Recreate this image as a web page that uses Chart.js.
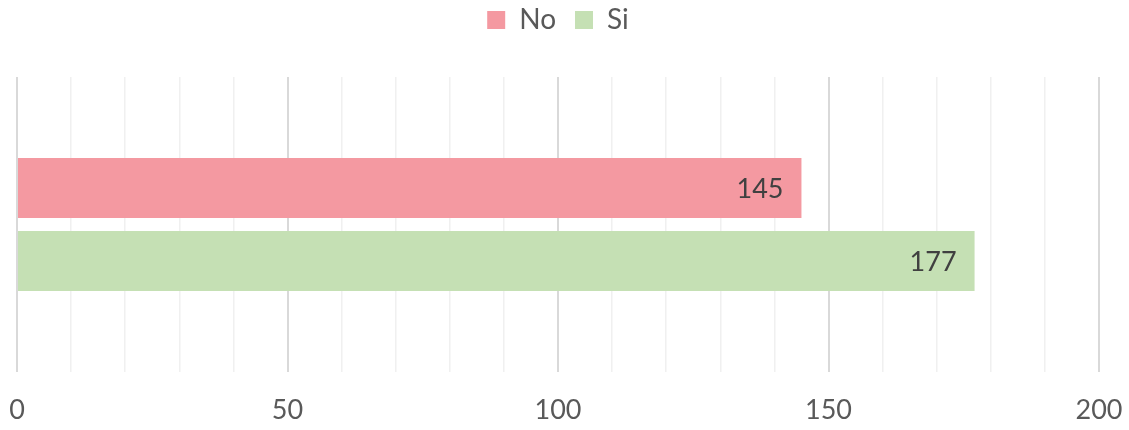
<!DOCTYPE html>
<html>
<head>
<meta charset="utf-8">
<script src="https://cdn.jsdelivr.net/npm/chart.js@4"></script>
<style>
  html, body { margin: 0; padding: 0; background: #fff; }
  #wrap { width: 1129px; height: 430px; }
</style>
</head>
<body>
<div id="wrap"><canvas id="c"></canvas></div>
<script>
// data
const categories = [''];
const seriesNames = ['No', 'Si'];
const noValues = [145];
const siValues = [177];
const xMin = 0, xMax = 200, xStep = 10, labelStep = 50;

const FONT = 'Lato, "Open Sans", sans-serif';

// draws the value inside the end of each bar
const barValues = {
    id: 'barValues',
    afterDatasetsDraw(chart) {
        const { ctx } = chart;
        ctx.save();
        ctx.font = '27px ' + FONT;
        ctx.fillStyle = '#404040';
        ctx.textAlign = 'right';
        ctx.textBaseline = 'middle';
        chart.data.datasets.forEach((ds, i) => {
            chart.getDatasetMeta(i).data.forEach((bar, j) => {
                ctx.fillText(ds.data[j], bar.x - 18, bar.y + 1);
            });
        });
        ctx.restore();
    }
};

// extra gap below the legend
const legendGap = {
    id: 'legendGap',
    beforeInit(chart) {
        const fit = chart.legend.fit;
        chart.legend.fit = function () {
            fit.call(this);
            this.height += 33;
        };
    }
};

new Chart(document.getElementById('c'), {
    type: 'bar',
    data: {
        labels: categories,
        datasets: [
            { label: seriesNames[0], data: noValues, backgroundColor: '#F499A1' },
            { label: seriesNames[1], data: siValues, backgroundColor: '#C5E0B4' }
        ]
    },
    options: {
        indexAxis: 'y',
        responsive: true,
        maintainAspectRatio: false,
        animation: false,
        layout: { padding: { left: 17, right: 30, top: -13, bottom: 4 } },
        datasets: { bar: { categoryPercentage: 0.495, barPercentage: 0.82 } },
        plugins: {
            legend: {
                position: 'top',
                labels: {
                    font: { size: 28, family: FONT },
                    color: '#595959',
                    boxWidth: 18,
                    boxHeight: 18,
                    padding: 19
                }
            },
            tooltip: { enabled: false }
        },
        scales: {
            x: {
                min: xMin,
                max: xMax,
                afterFit(scale) {
                    // let layout padding decide the sides
                    scale.paddingLeft = 0;
                    scale.paddingRight = 0;
                    scale.height = 54;
                },
                ticks: {
                    stepSize: xStep,
                    autoSkip: false,
                    maxRotation: 0,
                    padding: 22,
                    color: '#595959',
                    font: { size: 27, family: FONT },
                    callback: v => (v % labelStep === 0 ? v : '')
                },
                grid: {
                    drawTicks: false,
                    color: c => (c.tick && c.tick.value % labelStep === 0 ? '#D9D9D9' : '#F0F0F0'),
                    lineWidth: c => (c.tick && c.tick.value % labelStep === 0 ? 2 : 1.5)
                },
                border: { display: false }
            },
            y: {
                display: false
            }
        }
    },
    plugins: [barValues, legendGap]
});
</script>
</body>
</html>
